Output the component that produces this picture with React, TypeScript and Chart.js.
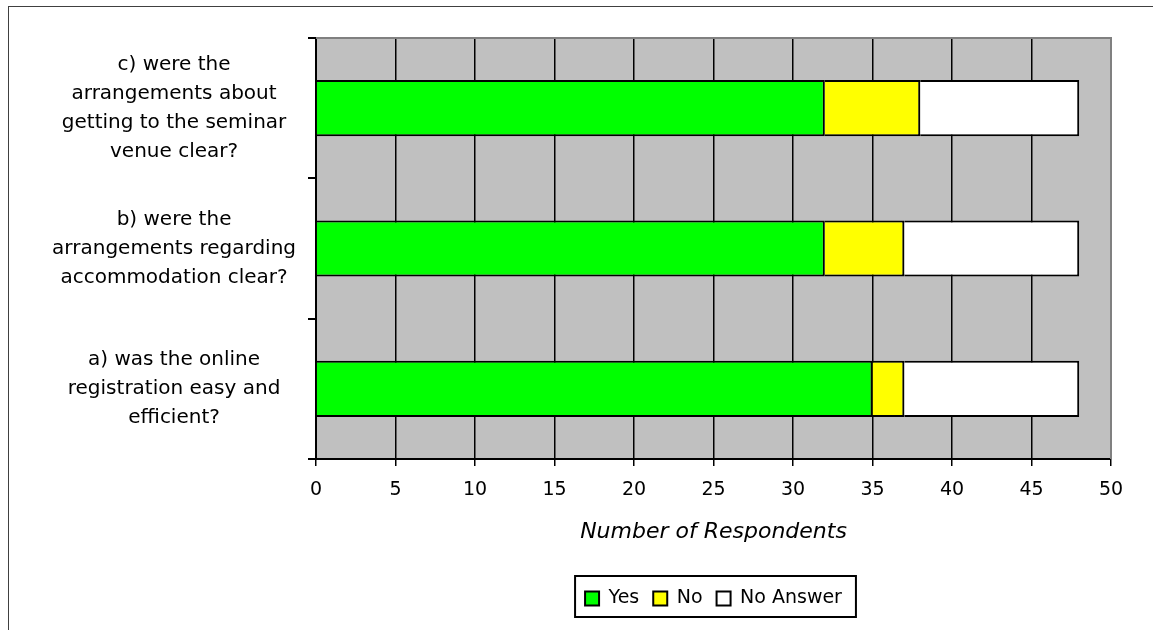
import React, { useEffect, useRef } from "react";
import { Chart, registerables } from "chart.js";

Chart.register(...registerables);

const categories: string[][] = [
  ["c) were the", "arrangements about", "getting to the seminar", "venue clear?"],
  ["b) were the", "arrangements regarding", "accommodation clear?"],
  ["a) was the online", "registration easy and", "efficient?"],
];
const yesValues = [32, 32, 35];
const noValues = [6, 5, 2];
const noAnswerValues = [10, 11, 11];
const seriesNames = ["Yes", "No", "No Answer"];
const axisTitle = "Number of Respondents";

const FONT = "'DejaVu Sans', sans-serif";

const plotDecor = {
  id: "plotDecor",
  beforeDraw(chart: any) {
    const { ctx, chartArea: a } = chart;
    ctx.save();
    ctx.fillStyle = "#C0C0C0";
    ctx.fillRect(a.left, a.top, a.right - a.left, a.bottom - a.top);
    ctx.restore();
  },
  afterDraw(chart: any) {
    const { ctx, chartArea: a } = chart;
    ctx.save();
    ctx.strokeStyle = "#808080";
    ctx.lineWidth = 2;
    ctx.beginPath();
    ctx.moveTo(a.left, a.top);
    ctx.lineTo(a.right, a.top);
    ctx.lineTo(a.right, a.bottom);
    ctx.stroke();
    const lg = chart.legend;
    if (lg && lg.legendHitBoxes && lg.legendHitBoxes.length) {
      const hb = lg.legendHitBoxes;
      let l = Infinity, r = -Infinity;
      hb.forEach((h: any) => {
        l = Math.min(l, h.left);
        r = Math.max(r, h.left + h.width);
      });
      ctx.strokeStyle = "#000";
      ctx.lineWidth = 2;
      ctx.strokeRect(l - 10, lg.top + 1, r - l + 24, lg.bottom - lg.top - 2);
    }
    ctx.restore();
  },
};

export default function App() {
  const ref = useRef<HTMLCanvasElement>(null);
  useEffect(() => {
    if (!ref.current) return;
    Chart.defaults.font.family = FONT;
    Chart.defaults.color = "#000";
    const chart = new Chart(ref.current, {
      type: "bar",
      data: {
        labels: categories,
        datasets: [
          { label: seriesNames[0], data: yesValues, backgroundColor: "#00FF00" },
          { label: seriesNames[1], data: noValues, backgroundColor: "#FFFF00" },
          { label: seriesNames[2], data: noAnswerValues, backgroundColor: "#FFFFFF" },
        ].map((d) => ({
          ...d,
          borderColor: "#000",
          borderWidth: 2,
          categoryPercentage: 1,
          barPercentage: 0.4,
        })),
      },
      options: {
        indexAxis: "y",
        responsive: false,
        animation: false,
        layout: { padding: { top: 38, right: 42, bottom: 12, left: 0 } },
        plugins: {
          legend: {
            position: "bottom",
            fullSize: false,
            labels: {
              boxWidth: 14,
              boxHeight: 14,
              padding: 14,
              font: { size: 19, family: FONT },
              color: "#000",
            },
          },
          tooltip: { enabled: false },
        },
        scales: {
          x: {
            stacked: true,
            min: 0,
            max: 50,
            ticks: { stepSize: 5, padding: 13, font: { size: 19, family: FONT }, color: "#000" },
            grid: {
              color: (c: any) => (c.tick && c.tick.value === 50 ? "#808080" : "#000"),
              tickColor: "#000",
              lineWidth: 1.5,
              tickLength: 7,
            },
            border: { display: true, color: "#000", width: 2 },
            title: {
              display: true,
              text: axisTitle,
              font: { size: 22, style: "italic", family: FONT },
              color: "#000",
              padding: { top: 0, bottom: 30 },
            },
            afterFit: (s: any) => {
              s.height = 116;
              s.paddingLeft = 0;
              s.paddingRight = 0;
            },
          },
          y: {
            stacked: true,
            ticks: {
              crossAlign: "center",
              padding: 12,
              font: { size: 20, lineHeight: 1.45, family: FONT },
              color: "#000",
            },
            grid: {
              drawOnChartArea: false,
              color: "#000",
              tickColor: "#000",
              lineWidth: 2,
              tickLength: 8,
            },
            border: { display: true, color: "#000", width: 2 },
            afterFit: (s: any) => {
              s.width = 316;
              s.paddingTop = 0;
              s.paddingBottom = 0;
            },
          },
        },
      },
      plugins: [plotDecor],
    } as any);
    return () => chart.destroy();
  }, []);

  return (
    <div style={{ position: "fixed", left: 0, top: 0, width: 1153, height: 630, overflow: "hidden", background: "#fff" }}>
      <div
        style={{
          position: "absolute",
          left: 8,
          top: 6,
          width: 1300,
          height: 800,
          border: "1px solid #404040",
        }}
      />
      <canvas ref={ref} width={1153} height={630} style={{ position: "absolute", left: 0, top: 0 }} />
    </div>
  );
}
